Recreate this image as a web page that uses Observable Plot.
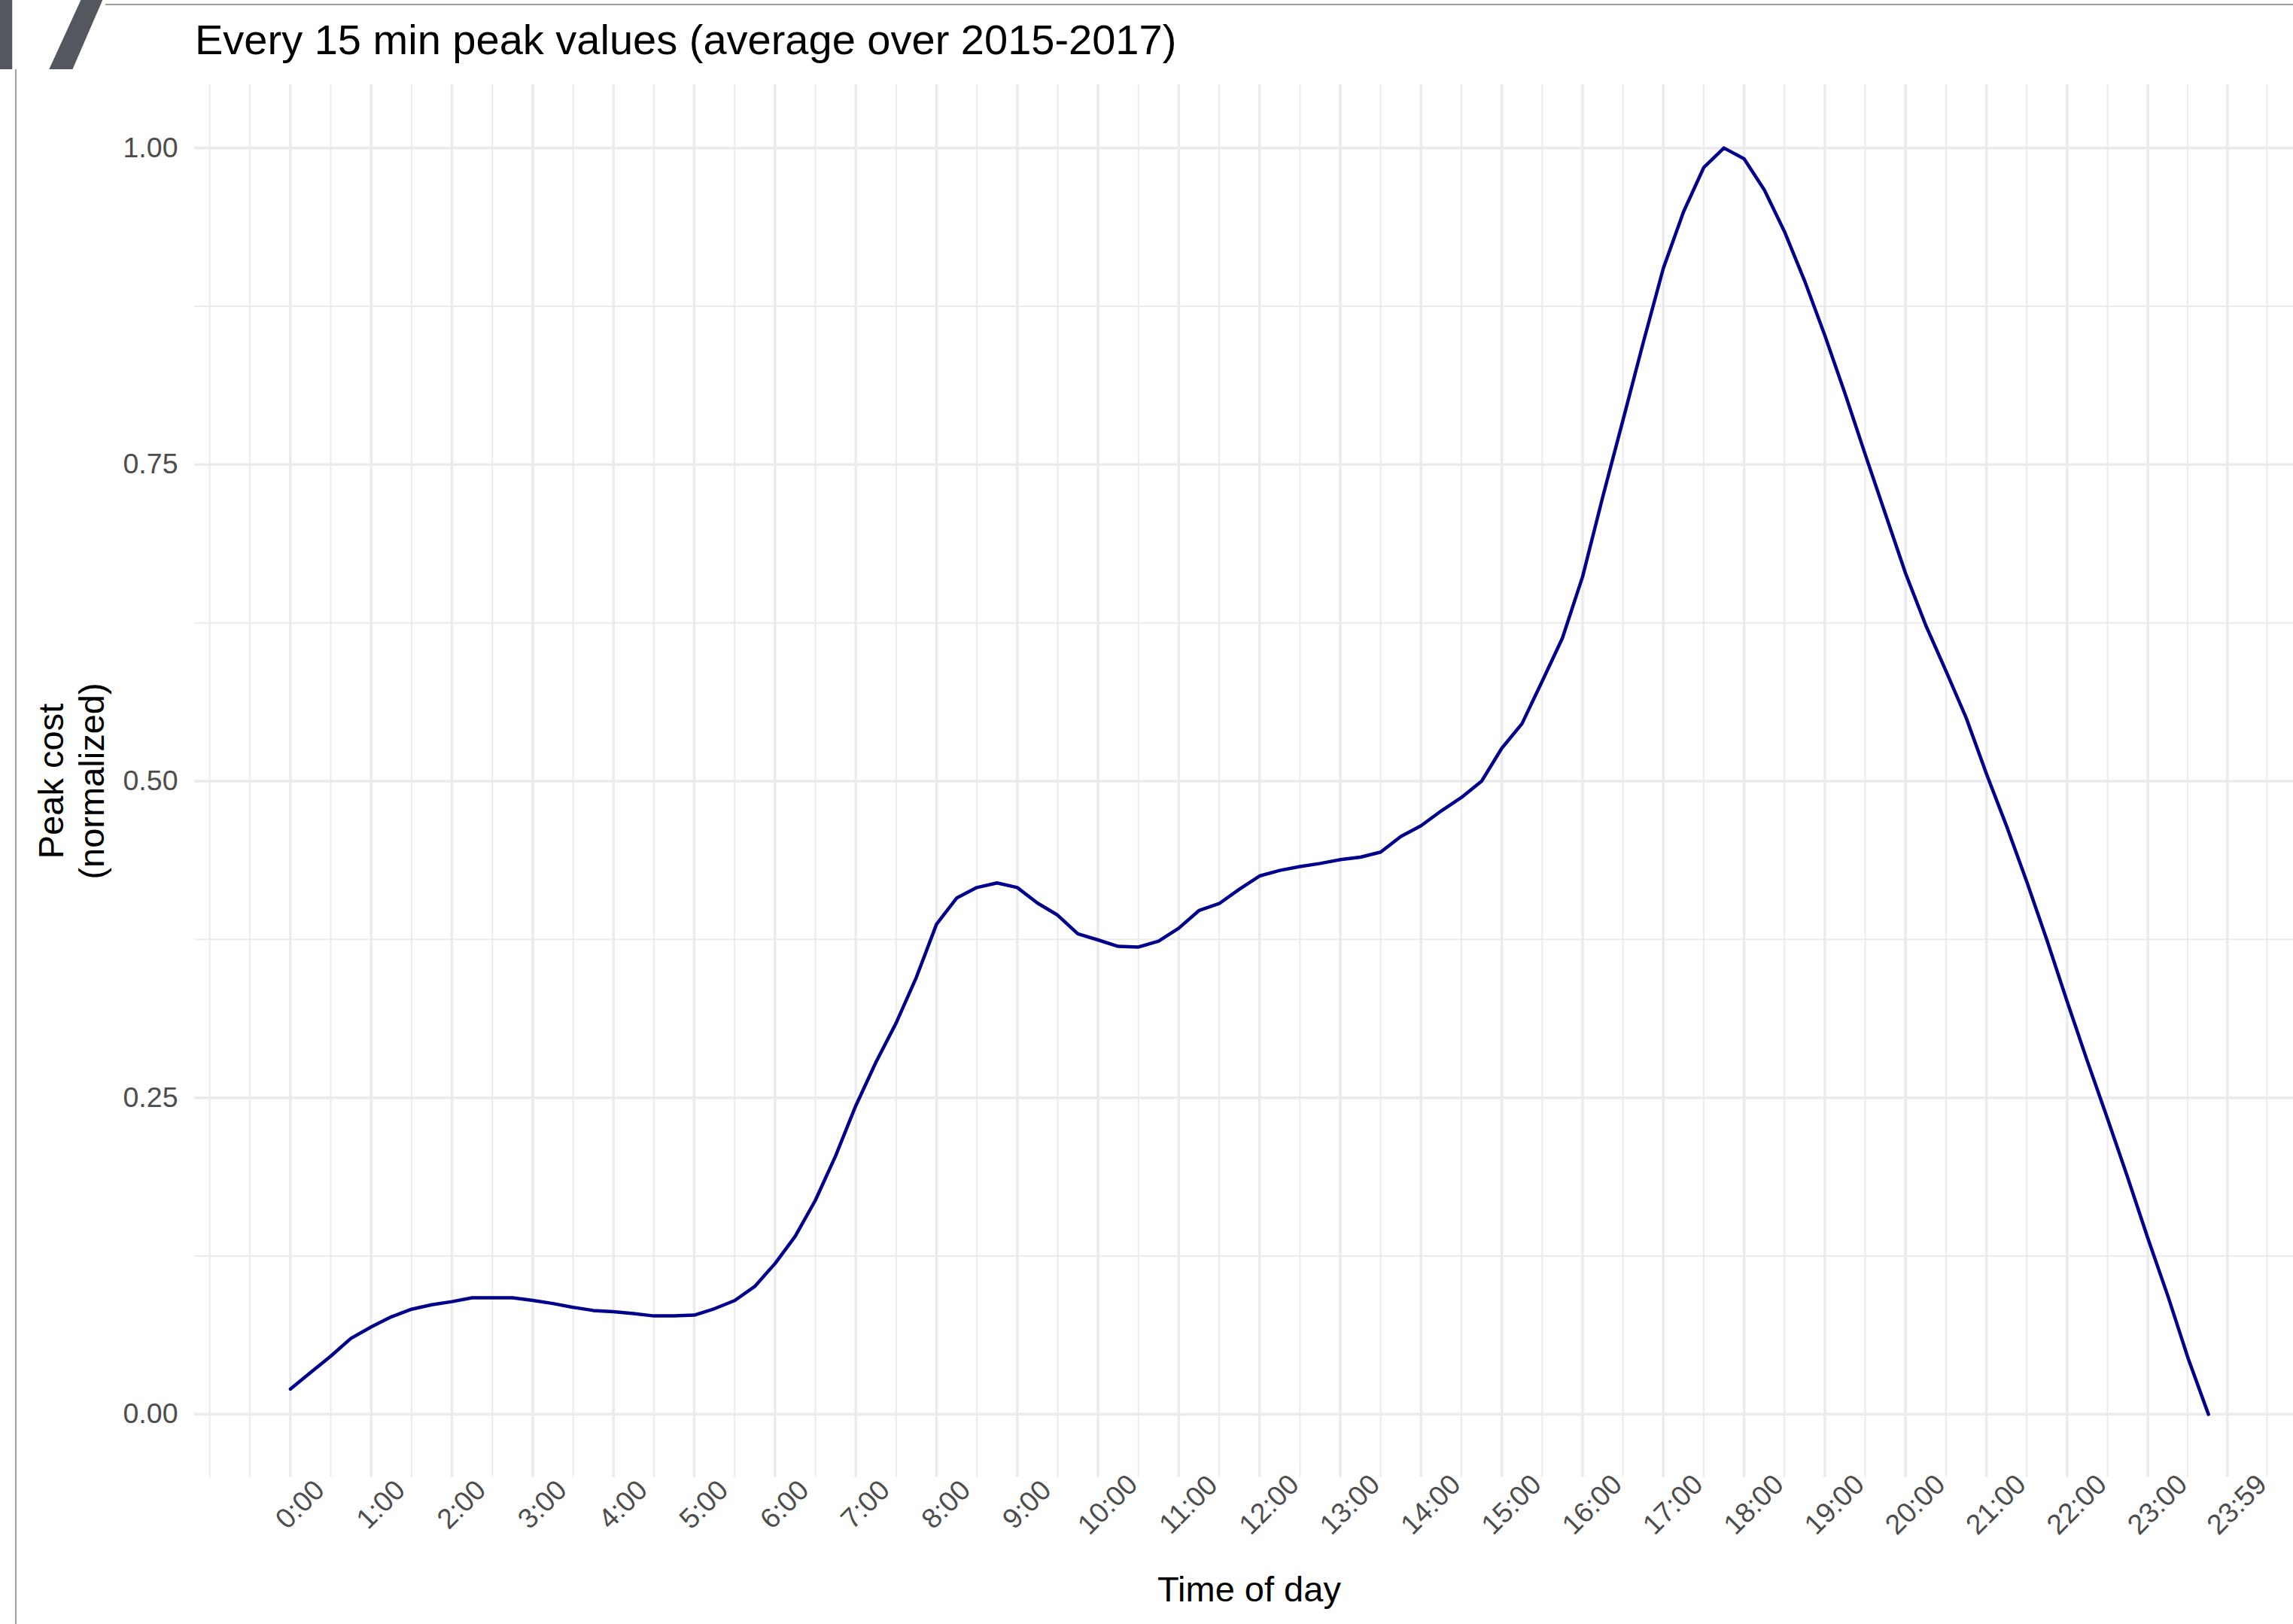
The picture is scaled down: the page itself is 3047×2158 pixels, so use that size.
<!DOCTYPE html>
<html>
<head>
<meta charset="utf-8">
<script src="https://cdn.jsdelivr.net/npm/d3@7"></script>
<script src="https://cdn.jsdelivr.net/npm/@observablehq/plot@0.6"></script>
<style>
  html, body { margin: 0; padding: 0; background: #fff; overflow: hidden; }
  #page { position: relative; width: 3047px; height: 2158px; background: #fff; overflow: hidden; }
  #header { position: relative; width: 3047px; height: 100px; }
  #title { position: absolute; left: 259px; top: 25px; font-family: "Liberation Sans", Arial, Helvetica, sans-serif; font-size: 56px; line-height: 1; color: #000; white-space: nowrap; }
  #corner { position: absolute; left: -66px; top: -85px; font-family: Roboto, "Open Sans", sans-serif; font-weight: bold; font-size: 210px; line-height: 1; letter-spacing: -12px; color: #53585e; white-space: nowrap; }
  #topline { position: absolute; left: 140px; top: 5px; width: 2907px; height: 2px; background: #a0a0a0; }
  #leftline { position: absolute; left: 20px; top: 92px; width: 2px; height: 2066px; background: #a0a0a0; z-index: 2; }
  #chart svg { display: block; }
</style>
</head>
<body>
<div id="page">
  <div id="header">
    <div id="topline"></div>
    <div id="corner">17</div>
    <div id="title">Every 15 min peak values (average over 2015-2017)</div>
  </div>
  <div id="leftline"></div>
  <div id="chart"></div>
</div>
<script>
// time of day in minutes (every 15 min)
const minutes = [0,15,30,45,60,75,90,105,120,135,150,165,180,195,210,225,240,255,270,285,300,315,330,345,360,375,390,405,420,435,450,465,480,495,510,525,540,555,570,585,600,615,630,645,660,675,690,705,720,735,750,765,780,795,810,825,840,855,870,885,900,915,930,945,960,975,990,1005,1020,1035,1050,1065,1080,1095,1110,1125,1140,1155,1170,1185,1200,1215,1230,1245,1260,1275,1290,1305,1320,1335,1350,1365,1380,1395,1410,1425];

// normalized peak cost
const peak = [
  0.020,0.033,0.046,0.060,0.069,0.077,0.083,0.0865,0.089,0.092,0.092,0.092,0.090,0.0875,0.0845,0.082,
  0.081,0.0795,0.0777,0.0777,0.0783,0.0834,0.0898,0.101,0.119,0.1405,0.169,0.204,0.2436,0.278,0.309,0.345,
  0.387,0.4077,0.416,0.4196,0.416,0.4037,0.3942,0.3794,0.3746,0.3695,0.369,0.3736,0.3839,0.3978,0.4033,0.4146,
  0.4251,0.4295,0.4325,0.435,0.438,0.440,0.444,0.4563,0.4648,0.4765,0.4871,0.500,0.526,0.5454,0.5789,0.6129,
  0.6614,0.7245,0.785,0.846,0.905,0.9496,0.9845,1.000,0.9915,0.967,0.934,0.895,0.852,0.806,0.758,0.711,
  0.664,0.623,0.587,0.550,0.506,0.4646,0.4207,0.3745,0.326,0.279,0.2335,0.187,0.139,0.093,0.0439,0.000
];

// axis breaks & labels
const xBreaks = [0,60,120,180,240,300,360,420,480,540,600,660,720,780,840,900,960,1020,1080,1140,1200,1260,1320,1380,1439];
const xLabels = ["0:00","1:00","2:00","3:00","4:00","5:00","6:00","7:00","8:00","9:00","10:00","11:00","12:00","13:00","14:00","15:00","16:00","17:00","18:00","19:00","20:00","21:00","22:00","23:00","23:59"];
const xMinor = [-60,-30,30,90,150,210,270,330,390,450,510,570,630,690,750,810,870,930,990,1050,1110,1170,1230,1290,1350,1409.5,1468.5];
const yBreaks = [0,0.25,0.5,0.75,1];
const yLabels = ["0.00","0.25","0.50","0.75","1.00"];
const yMinor = [0.125,0.375,0.625,0.875];

const data = minutes.map((m, i) => ({minute: m, value: peak[i]}));
const xTicks = xBreaks.map((b, i) => ({b, label: xLabels[i]}));
const yTicks = yBreaks.map((b, i) => ({b, label: yLabels[i]}));

const grid = "#EBEBEB";
const font = "Liberation Sans, Arial, Helvetica, sans-serif";

const chart = Plot.plot({
  width: 3047,
  height: 2058,
  marginLeft: 258,
  marginRight: 0,
  marginTop: 12,
  marginBottom: 195,
  style: {fontFamily: font, background: "white", overflow: "visible"},
  x: {domain: [-71.25, 1488.1], axis: null},
  y: {domain: [-0.05, 1.05], axis: null},
  marks: [
    Plot.ruleX(xMinor, {x: d => d, stroke: grid, strokeWidth: 2}),
    Plot.ruleY(yMinor, {y: d => d, stroke: grid, strokeWidth: 2}),
    Plot.ruleX(xBreaks, {x: d => d, stroke: grid, strokeWidth: 3.5}),
    Plot.ruleY(yBreaks, {y: d => d, stroke: grid, strokeWidth: 3.5}),
    Plot.line(data, {x: "minute", y: "value", stroke: "#00008B", strokeWidth: 4.5, strokeLinejoin: "round"}),
    // y tick labels
    Plot.text(yTicks, {y: "b", text: "label", frameAnchor: "left", textAnchor: "end", dx: -22, fontSize: 37.5, fill: "#4D4D4D", lineAnchor: "middle"}),
    // x tick labels (rotated 45°)
    Plot.text(xTicks, {x: "b", text: "label", frameAnchor: "bottom", textAnchor: "middle", lineAnchor: "middle", rotate: -45, dx: 13, dy: 36, fontSize: 37.5, fill: "#4D4D4D"}),
    // axis titles
    Plot.text(["Time of day"], {frameAnchor: "bottom", text: d => d, dx: 7, dy: 149, fontSize: 47, fill: "black", lineAnchor: "middle"}),
    Plot.text(["Peak cost\n(normalized)"], {frameAnchor: "left", text: d => d, dx: -165, rotate: -90, fontSize: 47, lineHeight: 1.15, fill: "black", lineAnchor: "middle", textAnchor: "middle"})
  ]
});
document.getElementById("chart").appendChild(chart);
</script>
</body>
</html>
